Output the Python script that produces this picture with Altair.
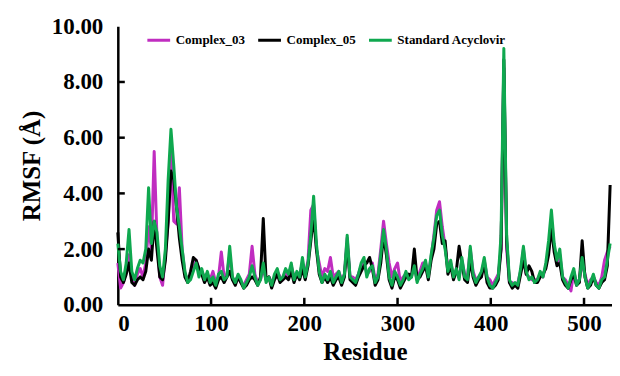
import altair as alt
import pandas as pd

residues = list(range(0, 531, 3))

complex_03 = [
    1.5, 0.6, 0.8, 1.2, 1.8, 1.0, 0.7, 1.1, 1.3, 1.0,
    1.5, 2.8, 2.0, 5.5, 2.4, 1.0, 0.7, 1.8, 3.0, 5.5,
    3.0, 2.9, 4.2, 2.0, 1.1, 0.9, 1.0, 1.3, 1.6, 1.2,
    1.2, 1.0, 1.1, 0.9, 1.2, 0.8, 1.0, 1.9, 1.0, 1.1,
    1.8, 0.9, 0.9, 1.0, 0.8, 0.7, 0.9, 1.1, 2.1, 1.1,
    0.8, 0.9, 1.3, 0.9, 1.0, 0.8, 1.0, 1.2, 1.0, 0.9,
    1.2, 1.0, 1.4, 1.0, 1.1, 1.1, 1.5, 1.1, 1.6, 3.4,
    3.6, 2.0, 1.5, 1.0, 1.3, 1.2, 1.7, 1.0, 1.1, 1.2,
    0.9, 1.1, 2.4, 1.0, 1.0, 0.9, 1.1, 1.4, 1.6, 1.1,
    1.2, 1.5, 0.9, 1.1, 2.0, 3.0, 2.2, 1.5, 1.0, 1.3,
    1.5, 0.8, 1.0, 1.1, 1.0, 1.1, 1.3, 0.9, 1.2, 1.5,
    1.5, 1.1, 1.7, 2.5, 3.4, 3.7, 2.8, 2.1, 1.3, 1.5,
    1.1, 1.2, 1.0, 1.6, 1.1, 1.0, 2.0, 1.2, 0.9, 1.0,
    1.1, 1.6, 1.0, 0.9, 0.7, 0.9, 1.1, 2.0, 8.5, 2.0,
    0.8, 0.8, 0.7, 0.8, 1.2, 2.0, 1.1, 1.0, 0.9, 0.9,
    0.9, 1.1, 1.0, 1.4, 2.0, 3.0, 2.1, 1.5, 1.8, 1.0,
    0.9, 0.7, 0.5, 1.2, 0.8, 0.9, 1.5, 1.1, 0.7, 0.9,
    1.0, 0.8, 0.7, 1.0, 1.6, 1.9, 2.1,
]

complex_05 = [
    2.6, 1.0, 0.8, 1.1, 1.5, 0.8, 0.7, 0.9, 1.0, 0.9,
    1.2, 2.0, 1.6, 3.0, 2.0, 1.0, 0.9, 1.6, 3.0, 4.8,
    4.5, 3.5, 2.4, 1.6, 1.0, 0.8, 1.2, 1.7, 1.6, 1.3,
    1.1, 0.8, 1.0, 0.7, 0.8, 0.6, 0.9, 1.0, 0.8, 1.0,
    1.2, 0.9, 0.7, 1.0, 0.8, 0.6, 0.7, 0.9, 1.0, 0.9,
    0.7, 1.0, 3.1, 0.9, 1.0, 0.6, 0.9, 1.1, 0.8, 0.9,
    1.0, 0.9, 1.2, 0.8, 1.1, 0.9, 1.3, 0.9, 1.4, 2.3,
    3.2, 2.0, 1.1, 0.8, 1.0, 0.8, 1.0, 0.7, 0.9, 1.0,
    0.7, 1.0, 2.2, 0.9, 0.8, 0.7, 1.0, 1.2, 1.4, 1.5,
    1.7, 1.3, 0.7, 0.9, 1.5, 2.5, 1.8, 0.9, 0.6, 1.0,
    0.9, 0.6, 0.8, 1.0, 1.1, 1.0, 2.0, 0.9, 1.0, 1.2,
    1.4, 0.9, 1.6, 2.0, 2.9, 3.0, 2.2, 2.3, 1.1, 1.4,
    0.9, 1.2, 2.1, 1.5, 0.9, 0.8, 1.6, 1.0, 0.7, 0.9,
    1.0, 1.5, 0.8, 0.6, 0.6, 0.7, 0.9, 2.0, 8.8, 2.3,
    0.8, 0.6, 0.7, 0.6, 1.1, 1.6, 1.1, 1.4, 1.2, 0.8,
    0.8, 1.0, 1.1, 1.3, 1.8, 2.8, 1.9, 1.4, 1.5, 0.9,
    0.7, 0.6, 0.9, 1.1, 0.7, 0.8, 2.3, 1.0, 0.6, 0.7,
    1.0, 0.7, 0.6, 0.8, 0.9, 1.4, 4.3,
]

standard_acyclovir = [
    2.2, 1.2, 0.9, 1.5, 2.7, 1.2, 0.9, 1.3, 1.6, 1.5,
    2.0, 4.2, 2.2, 3.0, 2.6, 1.4, 1.0, 2.0, 4.5, 6.3,
    5.0, 3.5, 2.8, 2.0, 1.2, 0.8, 0.9, 1.2, 1.5, 1.0,
    1.3, 0.9, 1.2, 0.8, 1.0, 0.7, 1.1, 1.2, 0.9, 1.0,
    2.1, 1.0, 0.8, 1.1, 0.9, 0.6, 0.8, 1.0, 1.4, 1.0,
    0.7, 0.9, 1.5, 0.8, 1.0, 0.7, 1.1, 1.3, 0.9, 1.0,
    1.3, 1.1, 1.5, 0.9, 1.2, 1.0, 1.7, 1.0, 1.5, 2.5,
    3.9, 2.2, 1.2, 0.8, 1.1, 0.9, 1.2, 0.8, 1.0, 1.2,
    0.8, 1.1, 2.5, 1.0, 0.9, 0.8, 1.1, 1.5, 1.7, 1.0,
    1.3, 1.4, 0.8, 1.0, 1.8, 2.7, 2.0, 1.0, 0.7, 1.2,
    1.0, 0.7, 0.9, 1.2, 0.9, 1.0, 1.4, 0.8, 1.1, 1.3,
    1.6, 1.0, 1.8, 2.4, 3.2, 3.4, 2.5, 2.0, 1.2, 1.6,
    1.0, 1.3, 0.9, 1.7, 1.0, 0.9, 2.1, 1.1, 0.8, 1.0,
    1.2, 1.7, 1.0, 0.7, 0.6, 0.8, 1.0, 2.5, 9.2, 2.5,
    0.9, 0.7, 0.8, 0.7, 1.3, 2.1, 1.2, 0.9, 1.0, 0.8,
    0.9, 1.2, 1.0, 1.5, 2.3, 3.4, 2.2, 1.6, 2.0, 1.0,
    0.8, 0.6, 1.0, 1.3, 0.7, 0.9, 1.7, 1.0, 0.6, 0.8,
    1.1, 0.7, 0.6, 0.9, 1.0, 1.6, 2.2,
]

series_names = ["Complex_03", "Complex_05", "Standard Acyclovir"]
series_colors = ["#C02DC0", "#000000", "#0FA84F"]
x_ticks = [0, 100, 200, 300, 400, 500]
y_ticks = [0, 2, 4, 6, 8, 10]

rows = []
for name, vals in zip(series_names, [complex_03, complex_05, standard_acyclovir]):
    for r, v in zip(residues, vals):
        rows.append({"Residue": r, "RMSF": v, "series": name})
df = pd.DataFrame(rows)

FONT = "Liberation Serif"

x_enc = alt.X("Residue:Q", scale=alt.Scale(domain=[0, 530], nice=False),
              axis=alt.Axis(values=x_ticks, title="Residue"))
y_enc = alt.Y("RMSF:Q", scale=alt.Scale(domain=[0, 10], nice=False),
              axis=alt.Axis(values=y_ticks, format=".2f", title="RMSF (Å)"))
color_enc = alt.Color("series:N",
                      scale=alt.Scale(domain=series_names, range=series_colors),
                      legend=alt.Legend(title=None, orient="none", direction="horizontal",
                                        legendX=28, legendY=1, symbolType="stroke",
                                        symbolSize=520, symbolStrokeWidth=3,
                                        labelFont=FONT, labelFontSize=13,
                                        labelFontWeight="bold", labelColor="black",
                                        columnPadding=6, labelOffset=4))

layers = []
for name in series_names:
    layers.append(
        alt.Chart(df[df["series"] == name]).mark_line(strokeWidth=3, strokeJoin="round")
        .encode(x=x_enc, y=y_enc, color=color_enc)
    )

xt = pd.DataFrame({"t": [t for t in x_ticks if t > 0]})
yt = pd.DataFrame({"t": [t for t in y_ticks if 0 < t < 10]})
x_tick_layer = alt.Chart(xt).mark_rule(color="black", strokeWidth=2.5).encode(
    x="t:Q", y=alt.value(279), y2=alt.value(272))
y_tick_layer = alt.Chart(yt).mark_rule(color="black", strokeWidth=2.5).encode(
    y="t:Q", x=alt.value(0), x2=alt.value(7))

chart = alt.layer(*layers, x_tick_layer, y_tick_layer).properties(
    width=495, height=279, background="white",
    padding={"left": 11, "top": 7, "right": 0, "bottom": 5}
).configure_view(stroke=None).configure_axis(
    grid=False, domainColor="black", domainWidth=2.5, ticks=False,
    labelFont=FONT, labelFontSize=23, labelFontWeight="bold", labelColor="black",
    titleFont=FONT, titleFontSize=25, titleFontWeight="bold", titleColor="black",
).configure_axisY(labelPadding=15, titlePadding=7).configure_axisX(
    labelPadding=8, titlePadding=4
)

chart.save("out.html", embed_options={"renderer": "svg", "actions": False})
